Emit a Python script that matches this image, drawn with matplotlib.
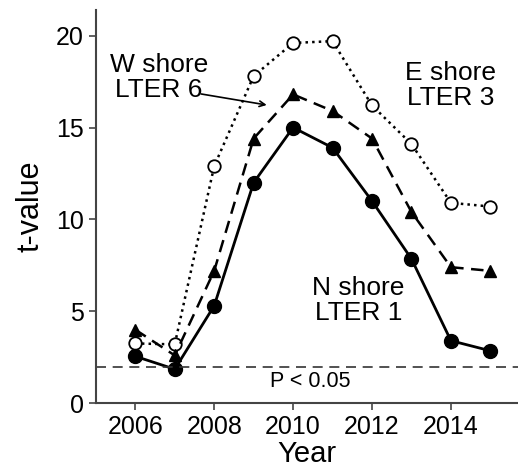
import numpy as np
import matplotlib.pyplot as plt

plt.rcParams['font.family'] = ['Liberation Sans', 'DejaVu Sans']

years = [2006, 2007, 2008, 2009, 2010, 2011, 2012, 2013, 2014, 2015]
e_shore = [3.25, 3.2, 12.9, 17.8, 19.6, 19.7, 16.2, 14.1, 10.9, 10.7]
w_shore = [4.0, 2.6, 7.2, 14.4, 16.8, 15.9, 14.4, 10.4, 7.4, 7.2]
n_shore = [2.55, 1.85, 5.3, 12.0, 15.0, 13.9, 11.0, 7.85, 3.4, 2.85]
p_crit = 1.97

fig = plt.figure(figsize=(5.18, 4.71), dpi=100)
ax = fig.add_axes([0.185, 0.144, 0.815, 0.835])

ax.plot(years, e_shore, color='black', linestyle=':', linewidth=1.8,
        marker='o', markersize=9, markerfacecolor='white', markeredgewidth=1.3)
ax.plot(years, w_shore, color='black', linestyle=(0, (5, 3)), linewidth=1.8,
        marker='^', markersize=9)
ax.plot(years, n_shore, color='black', linestyle='-', linewidth=2,
        marker='o', markersize=10)

ax.axhline(p_crit, color='#333333', linestyle=(0, (6, 4)), linewidth=1.2)
ax.text(2010.43, 1.75, 'P < 0.05', ha='center', va='top', fontsize=15.5)

ax.text(2006.6, 17.7, 'W shore\nLTER 6', ha='center', va='center', fontsize=19,
        linespacing=1.05)
ax.text(2014.0, 17.3, 'E shore\nLTER 3', ha='center', va='center', fontsize=19,
        linespacing=1.05)
ax.text(2011.65, 5.6, 'N shore\nLTER 1', ha='center', va='center', fontsize=19,
        linespacing=1.05)
ax.annotate('', xy=(2009.4, 16.2), xytext=(2007.6, 16.85),
            arrowprops=dict(arrowstyle='->', color='black', lw=1.2))

ax.set_xlim(2005.0, 2015.7)
ax.set_ylim(0, 21.4)
ax.set_xticks([2006, 2008, 2010, 2012, 2014])
ax.set_yticks([0, 5, 10, 15, 20])
ax.tick_params(labelsize=18, length=5, width=1.2, color='#444444')
ax.set_xlabel('Year', fontsize=21, labelpad=1)
ax.set_ylabel('t-value', fontsize=22, labelpad=8)

ax.spines['top'].set_visible(False)
ax.spines['right'].set_visible(False)
for s in ['left', 'bottom']:
    ax.spines[s].set_color('#444444')
    ax.spines[s].set_linewidth(1.5)

fig.savefig('out.png', dpi=100)
